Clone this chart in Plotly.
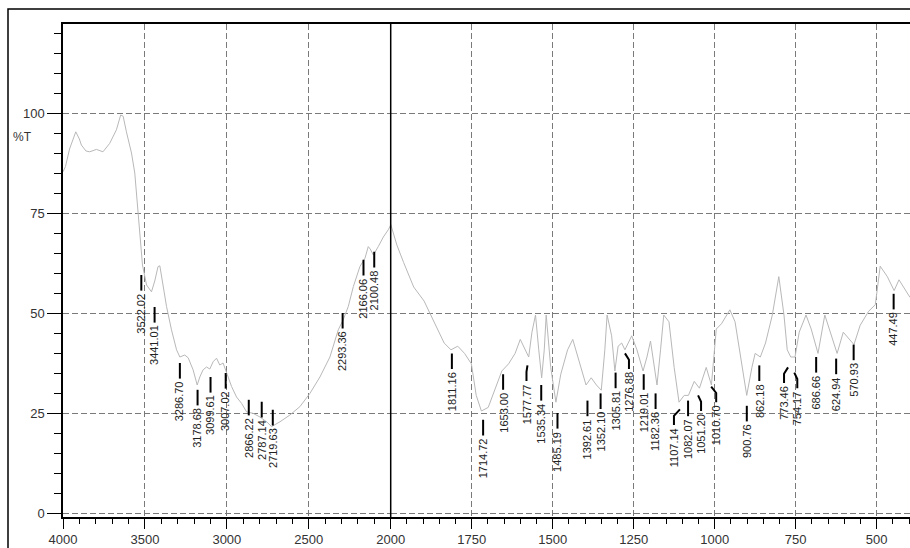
import plotly.graph_objects as go

# ---- spectrum data (wavenumber cm-1, %T) ----
wn_hi = [4000, 3985, 3960, 3922, 3900, 3888, 3860, 3837, 3796, 3756, 3715, 3674, 3648, 3633,
         3613, 3582, 3562, 3552, 3540, 3530, 3515, 3490, 3460, 3440, 3420, 3409, 3390, 3368,
         3338, 3307, 3287, 3257, 3236, 3206, 3181, 3165, 3145, 3124, 3104, 3084, 3063, 3043,
         3023, 3002, 2971, 2941, 2910, 2880, 2839, 2798, 2757, 2727, 2676, 2615, 2554, 2493,
         2432, 2371, 2320, 2290, 2259, 2228, 2188, 2157, 2137, 2125, 2106, 2076, 2045, 2015, 2000]
t_hi = [85.3, 86.6, 91.0, 95.3, 93.5, 92.0, 90.5, 90.3, 90.9, 90.3, 92.4, 95.8, 99.5, 99.2,
        95.3, 90.0, 85.0, 80.0, 73.0, 68.0, 62.0, 57.0, 55.3, 58.0, 61.6, 61.8, 57.0, 51.6,
        45.8, 40.8, 39.0, 39.5, 38.8, 35.8, 32.0, 34.0, 35.8, 36.5, 36.0, 37.8, 38.7, 37.0,
        37.5, 35.3, 31.6, 29.0, 27.4, 25.3, 24.9, 24.0, 22.8, 21.6, 22.8, 24.5, 26.6, 29.9,
        34.0, 39.0, 45.8, 48.3, 51.6, 56.6, 61.6, 63.7, 66.6, 66.0, 64.5, 66.6, 69.0, 70.8, 72.0]

wn_lo = [2000, 1981, 1960, 1929, 1897, 1866, 1835, 1814, 1793, 1772, 1751, 1736, 1720, 1699,
         1678, 1657, 1636, 1616, 1600, 1584, 1574, 1564, 1553, 1543, 1534, 1526, 1520, 1506,
         1490, 1475, 1454, 1438, 1417, 1397, 1381, 1365, 1350, 1339, 1332, 1318, 1308, 1298,
         1287, 1277, 1256, 1240, 1221, 1209, 1198, 1188, 1178, 1167, 1157, 1141, 1125, 1110,
         1094, 1081, 1063, 1047, 1026, 1010, 995, 979, 964, 953, 937, 917, 901, 885, 875, 859,
         843, 822, 802, 786, 776, 765, 752, 739, 718, 702, 681, 660, 640, 622, 603, 583, 570,
         551, 525, 504, 489, 467, 446, 431, 410, 397]
t_lo = [72.2, 67.0, 62.6, 56.5, 53.0, 47.8, 42.5, 40.8, 41.7, 39.9, 37.3, 29.4, 25.5, 26.4,
        31.2, 35.5, 37.3, 39.9, 43.4, 40.8, 39.0, 45.2, 49.5, 40.8, 33.8, 40.8, 49.5, 36.4,
        27.7, 34.7, 40.8, 43.4, 37.3, 32.0, 33.8, 32.0, 30.7, 40.8, 49.5, 44.3, 35.5, 41.7,
        42.5, 40.8, 44.3, 40.8, 35.5, 39.0, 43.0, 37.3, 32.0, 40.8, 49.5, 47.8, 36.4, 27.7,
        29.4, 29.4, 32.9, 31.2, 36.4, 32.0, 46.0, 47.3, 49.5, 50.8, 47.8, 37.3, 29.4, 36.4, 39.9, 39.0,
        42.5, 49.5, 59.1, 49.5, 40.8, 39.0, 39.0, 45.2, 49.5, 46.0, 39.9, 49.5, 44.3, 39.9, 45.2, 43.4, 42.1,
        46.9, 50.4, 52.1, 61.7, 59.1, 55.6, 58.3, 55.6, 53.9]

# ---- peak labels ----
peak_wn = [3522.02, 3441.01, 3286.70, 3178.68, 3099.61, 3007.02, 2866.22, 2787.14, 2719.63,
           2293.36, 2166.06, 2100.48,
           1811.16, 1714.72, 1653.00, 1577.77, 1535.34, 1485.19, 1392.61, 1352.10, 1305.81,
           1276.88, 1219.01, 1182.36, 1107.14, 1082.07, 1051.20, 1010.70, 900.76, 862.18,
           773.46, 754.17, 686.66, 624.94, 570.93, 447.49]
peak_labels = ["3522.02", "3441.01", "3286.70", "3178.68", "3099.61", "3007.02", "2866.22",
               "2787.14", "2719.63", "2293.36", "2166.06", "2100.48",
               "1811.16", "1714.72", "1653.00", "1577.77", "1535.34", "1485.19", "1392.61",
               "1352.10", "1305.81", "1276.88", "1219.01", "1182.36", "1107.14", "1082.07",
               "1051.20", "1010.70", "900.76", "862.18", "773.46", "754.17", "686.66",
               "624.94", "570.93", "447.49"]
peak_mark_t = [59.5, 51.5, 37.5, 30.8, 34.0, 35.0, 28.3, 27.8, 25.8, 50.0, 63.3, 65.3,
               39.9, 23.3, 34.7, 36.9, 32.0, 25.0, 28.1, 29.9, 35.1, 39.9, 34.7, 29.9,
               25.9, 28.1, 29.4, 31.6, 26.8, 36.9, 36.4, 35.1, 39.0, 38.6, 42.1, 54.8]
# sideways displacement (px) of crowded labels, joined to their peak by a bent leader
label_shift_px = {"1107.14": -6, "1051.20": 3, "1010.70": 5, "773.46": -4,
                  "754.17": 3, "1276.88": 4, "1577.77": -1}

left_ticks = [4000, 3500, 3000, 2500]
right_ticks = [2000, 1750, 1500, 1250, 1000, 750, 500]
y_ticks = [0, 25, 50, 75, 100]

W, H = 910, 548
L, R, T, B = 63, 0, 24, 31
split = (390.7 - L) / (W - L - R)
MARK_LEN = 3.9
X_HI = (4000, 2000)
X_LO = (2000, 397)
px_per_unit_hi = split * (W - L - R) / (X_HI[0] - X_HI[1])
px_per_unit_lo = (1 - split) * (W - L - R) / (X_LO[0] - X_LO[1])

fig = go.Figure()
line_style = dict(color="#b8b8b8", width=1)
fig.add_trace(go.Scatter(x=wn_hi, y=t_hi, mode="lines", line=line_style,
                         xaxis="x", yaxis="y", hoverinfo="skip", showlegend=False))
fig.add_trace(go.Scatter(x=wn_lo, y=t_lo, mode="lines", line=line_style,
                         xaxis="x2", yaxis="y", hoverinfo="skip", showlegend=False))

mx_hi, my_hi, mx_lo, my_lo = [], [], [], []
for w, lab, t in zip(peak_wn, peak_labels, peak_mark_t):
    shift = label_shift_px.get(lab, 0)
    if w >= 2000:
        wt = w - shift / px_per_unit_hi
        if shift:
            mx_hi += [w, wt, wt, None]; my_hi += [t, t - 1.6, t - MARK_LEN, None]
        else:
            mx_hi += [w, w, None]; my_hi += [t, t - MARK_LEN, None]
        ax = "x"
    else:
        wt = w - shift / px_per_unit_lo
        if shift:
            mx_lo += [w, wt, wt, None]; my_lo += [t, t - 1.6, t - MARK_LEN, None]
        else:
            mx_lo += [w, w, None]; my_lo += [t, t - MARK_LEN, None]
        ax = "x2"
    fig.add_annotation(x=wt, y=t - MARK_LEN - 0.2, xref=ax, yref="y", text=lab,
                       textangle=-90, showarrow=False, xanchor="center", yanchor="top",
                       font=dict(size=11, color="#222", family="Liberation Sans, Arial"))
fig.add_trace(go.Scatter(x=mx_hi, y=my_hi, mode="lines", line=dict(color="black", width=2),
                         xaxis="x", yaxis="y", hoverinfo="skip", showlegend=False))
fig.add_trace(go.Scatter(x=mx_lo, y=my_lo, mode="lines", line=dict(color="black", width=2),
                         xaxis="x2", yaxis="y", hoverinfo="skip", showlegend=False))

grid = dict(showgrid=True, gridcolor="#7a7a7a", gridwidth=1, griddash="6px,3px")
tickfont = dict(size=13, color="#333", family="Liberation Sans, Arial")
xcommon = dict(ticks="outside", ticklen=10, tickwidth=1, tickcolor="black",
               showline=True, linecolor="black", linewidth=1.5, mirror=True,
               zeroline=False, tickfont=tickfont, **grid)
fig.update_layout(
    width=W, height=H, margin=dict(l=L, r=R, t=T, b=B),
    paper_bgcolor="white", plot_bgcolor="white",
    xaxis=dict(domain=[0, split], range=list(X_HI), tickmode="array", tickvals=left_ticks,
               minor=dict(dtick=100, ticks="outside", ticklen=5, tickcolor="black", showgrid=False),
               anchor="y", **xcommon),
    xaxis2=dict(domain=[split, 1], range=list(X_LO), tickmode="array", tickvals=right_ticks,
                minor=dict(dtick=50, ticks="outside", ticklen=5, tickcolor="black", showgrid=False),
                anchor="y", **xcommon),
    yaxis=dict(range=[-1, 122.25], tickmode="array", tickvals=y_ticks, ticks="outside",
               ticklen=14, tickwidth=1, tickcolor="black", showline=True, linecolor="black",
               linewidth=1.5, zeroline=False, tickfont=tickfont,
               minor=dict(tickvals=list(range(5, 125, 5)), ticks="outside", ticklen=7,
                          tickcolor="black", showgrid=False),
               **grid),
    font=dict(family="Liberation Sans, Arial"),
)
# solid divider at 2000 cm-1
fig.add_shape(type="line", xref="paper", yref="paper", x0=split, x1=split, y0=0, y1=1,
              line=dict(color="black", width=1.5), layer="above")
# outer frame
fig.add_shape(type="rect", xref="paper", yref="paper", x0=(8 - L) / (W - L), x1=1.05,
              y0=-0.2, y1=1 + (T - 9) / (H - T - B), line=dict(color="black", width=1.5))
fig.add_annotation(text="%T", xref="paper", yref="y", x=(22 - L) / (W - L), y=94,
                   showarrow=False, xanchor="center", yanchor="middle",
                   font=dict(size=12, color="#333"))

fig.write_html("out.html", config={"displayModeBar": False},
               post_script="document.body.style.margin='0';document.body.style.overflow='hidden';")
